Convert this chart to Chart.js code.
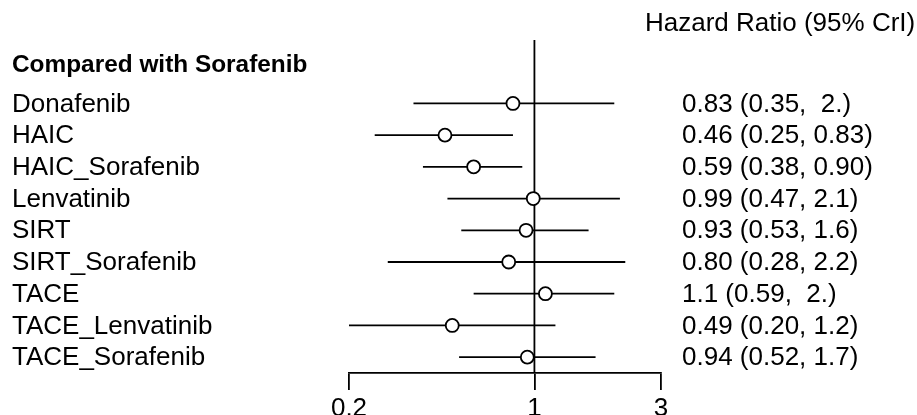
<!DOCTYPE html>
<html>
<head>
<meta charset="utf-8">
<script src="https://cdn.jsdelivr.net/npm/chart.js@4.4.0/dist/chart.umd.min.js"></script>
<style>
  html, body { margin: 0; padding: 0; background: #fff; }
  #wrap { width: 917px; height: 415px; }
</style>
</head>
<body>
<div id="wrap"><canvas id="forest"></canvas></div>
<script>
// treatments compared with Sorafenib
const treatments = ["Donafenib", "HAIC", "HAIC_Sorafenib", "Lenvatinib", "SIRT",
  "SIRT_Sorafenib", "TACE", "TACE_Lenvatinib", "TACE_Sorafenib"];
const hazardRatio = [0.83, 0.46, 0.59, 0.99, 0.93, 0.80, 1.1, 0.49, 0.94];
const lowerCrI = [0.35, 0.25, 0.38, 0.47, 0.53, 0.28, 0.59, 0.20, 0.52];
const upperCrI = [2.0, 0.83, 0.90, 2.1, 1.6, 2.2, 2.0, 1.2, 1.7];
const ciLabels = ["0.83 (0.35,  2.)", "0.46 (0.25, 0.83)", "0.59 (0.38, 0.90)",
  "0.99 (0.47, 2.1)", "0.93 (0.53, 1.6)", "0.80 (0.28, 2.2)", "1.1 (0.59,  2.)",
  "0.49 (0.20, 1.2)", "0.94 (0.52, 1.7)"];
const xTicks = [0.2, 1, 3];

const FONT = "'Liberation Sans', Arial, sans-serif";

// one small line dataset per whisker
const whiskers = treatments.map((t, i) => ({
  type: "line",
  data: [{ x: lowerCrI[i], y: i }, { x: upperCrI[i], y: i }],
  borderColor: "#000",
  borderWidth: 1.8,
  pointRadius: 0,
  fill: false,
  order: 1
}));

const textPlugin = {
  id: "forestText",
  beforeDatasetsDraw(chart) {
    const ctx = chart.ctx;
    const x = chart.scales.x;
    const area = chart.chartArea;
    // reference line at HR = 1
    ctx.save();
    ctx.strokeStyle = "#000";
    ctx.lineWidth = 1.8;
    ctx.beginPath();
    ctx.moveTo(x.getPixelForValue(1), area.top);
    ctx.lineTo(x.getPixelForValue(1), area.bottom);
    ctx.stroke();
    ctx.restore();
  },
  afterDraw(chart) {
    const ctx = chart.ctx;
    const y = chart.scales.y;
    ctx.save();
    ctx.fillStyle = "#000";
    ctx.textBaseline = "middle";
    ctx.font = "26px " + FONT;
    ctx.fillText("Hazard Ratio (95% CrI)", 645, 24);
    treatments.forEach((t, i) => {
      const py = y.getPixelForValue(i);
      ctx.fillText(t, 12, py + 1);
      ctx.fillText(ciLabels[i], 682, py + 1);
    });
    ctx.font = "bold 24.4px " + FONT;
    ctx.fillText("Compared with Sorafenib", 12, 65);
    ctx.restore();
  }
};

new Chart(document.getElementById("forest"), {
  type: "scatter",
  data: {
    datasets: [
      {
        data: hazardRatio.map((v, i) => ({ x: v, y: i })),
        pointRadius: 6.5,
        pointHoverRadius: 6.5,
        pointBackgroundColor: "#fff",
        pointBorderColor: "#000",
        pointBorderWidth: 1.8,
        order: 0
      },
      ...whiskers
    ]
  },
  options: {
    responsive: true,
    maintainAspectRatio: false,
    animation: false,
    events: [],
    layout: { padding: { left: 349, right: 256, top: 40, bottom: 0 } },
    plugins: { legend: { display: false }, tooltip: { enabled: false } },
    scales: {
      x: {
        type: "logarithmic",
        min: 0.2,
        max: 3,
        afterBuildTicks(scale) {
          scale.ticks = xTicks.map(v => ({ value: v }));
        },
        afterFit(scale) {
          scale.height = 42;
          scale.paddingLeft = 0;
          scale.paddingRight = 0;
        },
        border: { display: true, color: "#000", width: 1.8 },
        grid: {
          drawOnChartArea: false,
          drawTicks: true,
          tickLength: 17,
          color: "#000",
          lineWidth: 1.8
        },
        ticks: {
          color: "#000",
          padding: 3,
          maxRotation: 0,
          autoSkip: false,
          font: { family: FONT, size: 26 },
          callback: v => String(v)
        }
      },
      y: {
        type: "linear",
        display: false,
        reverse: true,
        min: -2,
        max: 8.5
      }
    }
  },
  plugins: [textPlugin]
});
</script>
</body>
</html>
